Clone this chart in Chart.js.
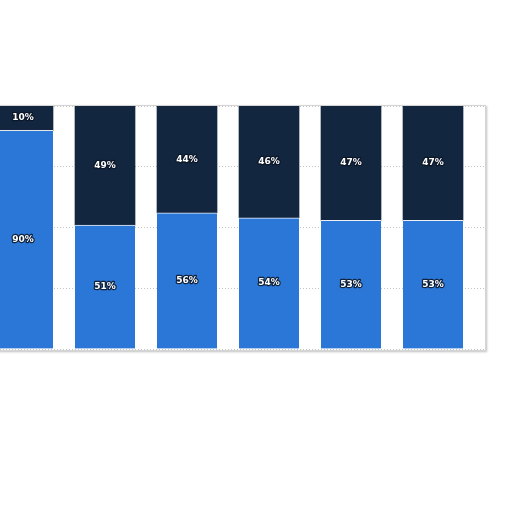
<!DOCTYPE html>
<html>
<head>
<meta charset="utf-8">
<script src="https://cdn.jsdelivr.net/npm/chart.js@4"></script>
<style>
  html, body { margin: 0; padding: 0; background: #fff; overflow: hidden; }
  #wrap { position: relative; width: 512px; height: 512px; overflow: hidden; }
  #chart { position: absolute; left: -30px; top: 0; }
  #frame { position: absolute; left: -2px; top: 105px; width: 486px; height: 244px;
           border: 1px solid #d4d4d4; box-shadow: 1px 1px 2px rgba(0,0,0,0.25); pointer-events: none; }
</style>
</head>
<body>
<div id="wrap">
  <canvas id="chart" width="530" height="512"></canvas>
  <div id="frame"></div>
</div>
<script>
const positions = [0, 1, 2, 3, 4, 5];
const lowerShare = [90, 51, 56, 54, 53, 53];
const upperShare = [10, 49, 44, 46, 47, 47];

const blue = '#2b77d8';
const navy = '#13263f';

const labelPlugin = {
    id: 'segLabels',
    afterDatasetsDraw(chart) {
        const ctx = chart.ctx;
        ctx.save();
        ctx.font = 'bold 9px "DejaVu Sans", sans-serif';
        ctx.textAlign = 'center';
        ctx.textBaseline = 'middle';
        ctx.lineJoin = 'round';
        chart.data.datasets.forEach((ds, i) => {
            chart.getDatasetMeta(i).data.forEach((bar, j) => {
                const p = bar.getCenterPoint();
                const txt = ds.data[j].y + '%';
                ctx.lineWidth = 2.5;
                ctx.strokeStyle = 'rgba(10,20,35,0.85)';
                ctx.strokeText(txt, p.x, p.y);
                ctx.fillStyle = '#ffffff';
                ctx.fillText(txt, p.x, p.y);
            });
        });
        ctx.restore();
    }
};

const ctx = document.getElementById('chart').getContext('2d');
new Chart(ctx, {
    type: 'bar',
    data: {
        datasets: [
            {
                label: 'lower',
                data: positions.map((x, i) => ({ x: x, y: lowerShare[i] })),
                backgroundColor: blue,
                borderColor: 'rgba(255,255,255,0.85)',
                borderWidth: { top: 1 },
                borderSkipped: 'start',
                barThickness: 60
            },
            {
                label: 'upper',
                data: positions.map((x, i) => ({ x: x, y: upperShare[i] })),
                backgroundColor: navy,
                borderWidth: 0,
                barThickness: 60
            }
        ]
    },
    options: {
        responsive: false,
        animation: false,
        layout: { padding: { left: 12, right: 15, top: 106, bottom: 163 } },
        plugins: { legend: { display: false }, tooltip: { enabled: false } },
        scales: {
            x: {
                type: 'linear',
                stacked: true,
                offset: false,
                min: -0.5,
                max: 5.634,
                display: false
            },
            y: {
                stacked: true,
                min: 0,
                max: 100,
                ticks: { display: false, stepSize: 25 },
                border: { display: false, dash: [1, 2] },
                grid: {
                    drawTicks: false,
                    color: '#c4c4c4',
                    lineWidth: 1
                }
            }
        }
    },
    plugins: [labelPlugin]
});
</script>
</body>
</html>
